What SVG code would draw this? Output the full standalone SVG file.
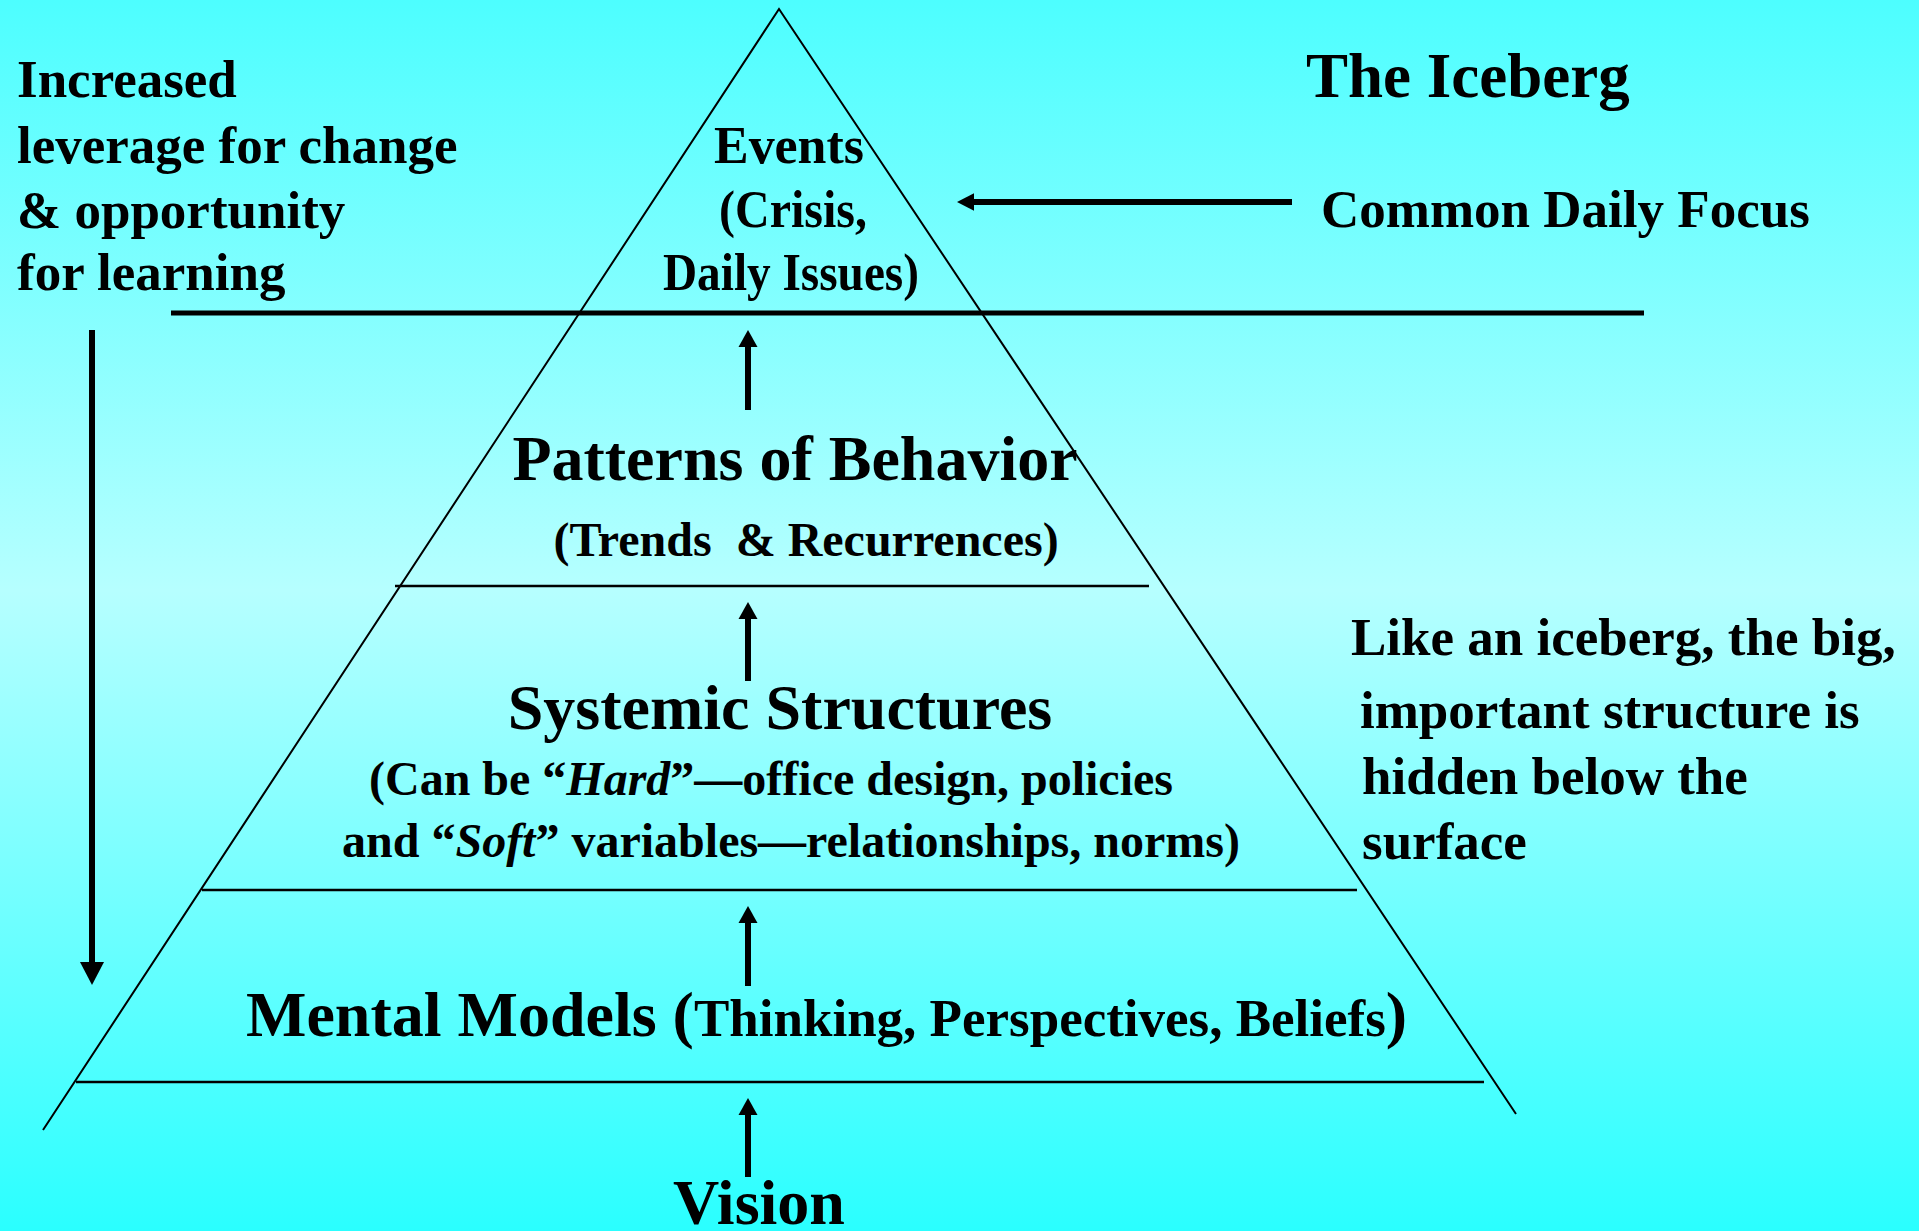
<svg xmlns="http://www.w3.org/2000/svg" width="1919" height="1231" viewBox="0 0 1919 1231">
  <defs>
    <linearGradient id="bg" x1="0" y1="0" x2="0" y2="1">
      <stop offset="0" stop-color="#4DFEFF"/>
      <stop offset="0.48" stop-color="#B6FFFF"/>
      <stop offset="1" stop-color="#2AFFFF"/>
    </linearGradient>
    <marker id="head" viewBox="0 -10 17 20" markerWidth="17" markerHeight="20" refX="0" refY="0" orient="auto" markerUnits="userSpaceOnUse">
      <path d="M0,-9.5 L17,0 L0,9.5 Z" fill="#000"/>
    </marker>
    <marker id="headL" viewBox="0 -9 17 18" markerWidth="17" markerHeight="18" refX="0" refY="0" orient="auto" markerUnits="userSpaceOnUse">
      <path d="M0,-8.7 L17,0 L0,8.7 Z" fill="#000"/>
    </marker>
    <marker id="headBig" viewBox="0 -12 23 24" markerWidth="23" markerHeight="24" refX="0" refY="0" orient="auto" markerUnits="userSpaceOnUse">
      <path d="M0,-12 L23,0 L0,12 Z" fill="#000"/>
    </marker>
  </defs>
  <style>
    text { font-family: "Liberation Serif", "Times New Roman", serif; font-weight: bold; fill: #000; }
    .f53 { font-size: 53px; }
    .f48 { font-size: 48px; }
    .f64 { font-size: 64px; }
    .f63 { font-size: 63px; }
    .mid { text-anchor: middle; }
    .it { font-style: italic; }
    .edge { stroke: #000; fill: none; stroke-width: 2; }
    .layer { stroke: #000; stroke-width: 2.5; }
    .arrow { stroke: #000; stroke-width: 6; fill: none; }
  </style>
  <rect x="0" y="0" width="1919" height="1231" fill="url(#bg)"/>

  <g id="iceberg-outline">
    <polyline class="edge" points="43,1130 779,9 1516,1114"/>
    <line x1="171" y1="313" x2="1644" y2="313" stroke="#000" stroke-width="5"/>
    <line class="layer" x1="395" y1="586" x2="1149" y2="586"/>
    <line class="layer" x1="202" y1="890" x2="1357" y2="890"/>
    <line class="layer" x1="76" y1="1082" x2="1484" y2="1082"/>
  </g>

  <g id="connectors">
    <line class="arrow" x1="748" y1="410" x2="748" y2="347" marker-end="url(#head)"/>
    <line class="arrow" x1="748" y1="681" x2="748" y2="619" marker-end="url(#head)"/>
    <line class="arrow" x1="748" y1="986" x2="748" y2="923" marker-end="url(#head)"/>
    <line class="arrow" x1="748" y1="1177" x2="748" y2="1115" marker-end="url(#head)"/>
    <line class="arrow" x1="1292" y1="202" x2="974" y2="202" marker-end="url(#headL)"/>
    <line class="arrow" stroke-width="8" x1="92" y1="330" x2="92" y2="962" marker-end="url(#headBig)"/>
  </g>

  <g id="leverage-label">
    <text class="f53" x="17" y="97">Increased</text>
    <text class="f53" x="17" y="163">leverage for change</text>
    <text class="f53" x="17" y="228">&amp; opportunity</text>
    <text class="f53" x="17" y="290">for learning</text>
  </g>

  <g id="title">
    <text class="f63" x="1306" y="97">The Iceberg</text>
  </g>

  <g id="common-focus">
    <text class="f53" x="1321" y="227">Common Daily Focus</text>
  </g>

  <g id="events">
    <text class="f53" x="714" y="163" textLength="150" lengthAdjust="spacingAndGlyphs">Events</text>
    <text class="f53" x="719" y="227" textLength="148" lengthAdjust="spacingAndGlyphs">(Crisis,</text>
    <text class="f53" x="663" y="290" textLength="256" lengthAdjust="spacingAndGlyphs">Daily Issues)</text>
  </g>

  <g id="patterns">
    <text class="f64 mid" x="795" y="480">Patterns of Behavior</text>
    <text class="f48 mid" x="806" y="556" xml:space="preserve">(Trends  &amp; Recurrences)</text>
  </g>

  <g id="structures">
    <text class="f64 mid" x="780" y="729">Systemic Structures</text>
    <text class="f48 mid" x="771" y="795">(Can be “<tspan class="it">Hard</tspan>”—office design, policies</text>
    <text class="f48 mid" x="791" y="857">and “<tspan class="it">Soft</tspan>” variables—relationships, norms)</text>
  </g>

  <g id="mental-models">
    <text class="f64" x="246" y="1036">Mental Models (<tspan class="f53">Thinking, Perspectives, Beliefs</tspan>)</text>
  </g>

  <g id="vision">
    <text class="f64" x="673" y="1224">Vision</text>
  </g>

  <g id="iceberg-note">
    <text class="f53" x="1351" y="655">Like an iceberg, the big,</text>
    <text class="f53" x="1360" y="728">important structure is</text>
    <text class="f53" x="1362" y="794">hidden below the</text>
    <text class="f53" x="1362" y="859">surface</text>
  </g>
</svg>
